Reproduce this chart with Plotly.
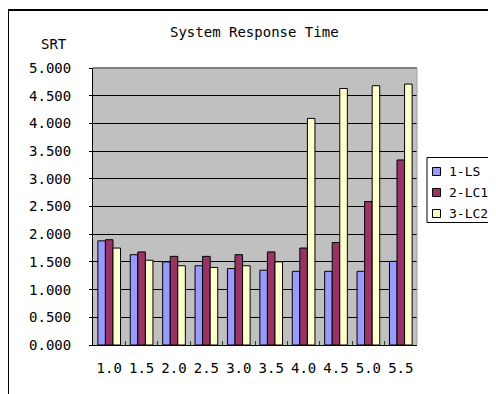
import plotly.graph_objects as go

categories = ["1.0", "1.5", "2.0", "2.5", "3.0", "3.5", "4.0", "4.5", "5.0", "5.5"]
ls_values = [1.88, 1.63, 1.50, 1.43, 1.38, 1.35, 1.33, 1.33, 1.33, 1.51]
lc1_values = [1.90, 1.68, 1.60, 1.60, 1.63, 1.68, 1.75, 1.85, 2.59, 3.34]
lc2_values = [1.75, 1.53, 1.43, 1.40, 1.43, 1.50, 4.09, 4.63, 4.68, 4.71]
series_names = ["1-LS", "2-LC1", "3-LC2"]
y_ticks = [0, 0.5, 1.0, 1.5, 2.0, 2.5, 3.0, 3.5, 4.0, 4.5, 5.0]

FONT = "DejaVu Sans Mono"
colors = ["#9999FF", "#993366", "#FFFFCC"]

# page body has an 8px default margin; figure sized to fit the window
OFF = 8
L, T, R, B = 93, 68, 417, 345           # plot area in window pixels
W, H = 496 - OFF, 394 - OFF
PW, PH = R - L, B - T


def px(xw):
    return (xw - L) / PW


def py(yw):
    return (B - yw) / PH


fig = go.Figure()
for name, vals, col in zip(series_names, [ls_values, lc1_values, lc2_values], colors):
    fig.add_trace(go.Bar(
        x=categories, y=vals, name=name,
        marker=dict(color=col, line=dict(color="black", width=1)),
        showlegend=False,
    ))

annotations = [
    dict(text="System Response Time", xref="paper", yref="paper",
         x=px(254), y=py(32), xanchor="center", yanchor="middle",
         showarrow=False, font=dict(family=FONT, size=14)),
    dict(text="SRT", xref="paper", yref="paper",
         x=px(54), y=py(44), xanchor="center", yanchor="middle",
         showarrow=False, font=dict(family=FONT, size=14)),
]
shapes = [
    dict(type="rect", xref="paper", yref="paper",
         x0=px(8), x1=px(560), y0=py(460), y1=py(10),
         line=dict(color="black", width=2), layer="below"),
    dict(type="line", xref="paper", yref="paper",
         x0=0, x1=1, y0=1, y1=1, line=dict(color="#808080", width=2)),
    dict(type="line", xref="paper", yref="paper",
         x0=1, x1=1, y0=0, y1=1, line=dict(color="#A0A0A0", width=1)),
    # legend box
    dict(type="rect", xref="paper", yref="paper",
         x0=px(427), x1=px(495.5), y0=py(222.5), y1=py(157.5),
         line=dict(color="black", width=1), fillcolor="white"),
]
legend_rows = [171.5, 192.5, 213.5]
for name, col, yc in zip(series_names, colors, legend_rows):
    shapes.append(dict(type="rect", xref="paper", yref="paper",
                       x0=px(432.5), x1=px(440.5), y0=py(yc + 4), y1=py(yc - 4),
                       line=dict(color="black", width=1), fillcolor=col))
    annotations.append(dict(text=name, xref="paper", yref="paper",
                            x=px(446.5), y=py(yc), xanchor="left", yanchor="middle",
                            showarrow=False, font=dict(family=FONT, size=13)))

fig.update_layout(
    width=W, height=H,
    margin=dict(l=L - OFF, r=W + OFF - R, t=T - OFF, b=H + OFF - B, autoexpand=False),
    paper_bgcolor="white",
    plot_bgcolor="#C0C0C0",
    barmode="group",
    bargap=0.3,
    bargroupgap=0,
    font=dict(family=FONT, size=13, color="black"),
    showlegend=False,
    xaxis=dict(
        type="category",
        showgrid=False,
        showline=True, linecolor="black", linewidth=1,
        ticks="inside", ticklen=4, tickcolor="#333333",
        tickson="boundaries",
        tickangle=0,
        tickfont=dict(family=FONT, size=14),
        ticklabelstandoff=10,
    ),
    yaxis=dict(
        range=[0, 5],
        tickvals=y_ticks,
        tickformat=".3f",
        showgrid=True, gridcolor="black", gridwidth=1,
        showline=True, linecolor="black", linewidth=1,
        ticks="outside", ticklen=3, tickcolor="black",
        tickfont=dict(family=FONT, size=14),
        ticklabelstandoff=15,
        zeroline=False,
    ),
    annotations=annotations,
    shapes=shapes,
)

fig.write_html("out.html")
